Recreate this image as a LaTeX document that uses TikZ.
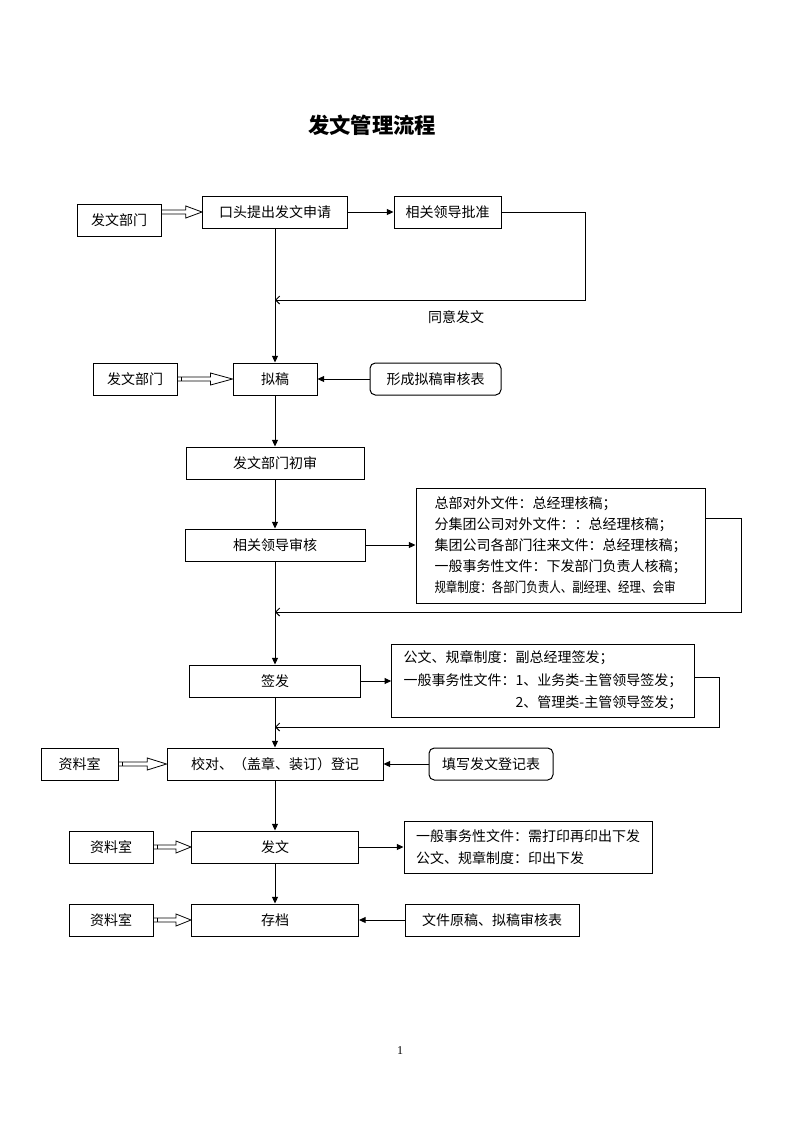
\documentclass[tikz,border=0pt]{standalone}
\usepackage{fontspec}
\setmainfont{Noto Sans CJK SC}
\newfontfamily\latinserif{Liberation Serif}
\usetikzlibrary{arrows.meta,calc}
\tikzset{
  box/.style={draw, inner sep=0pt, minimum height=24pt},
  roundbox/.style={box, rounded corners=4pt},
  notebox/.style={draw, inner xsep=9pt, inner ysep=0pt, align=left},
  flow/.style={-{Triangle[length=5pt,width=4.5pt]}},
  back/.style={-{Straight Barb[length=3pt,width=6pt]}},
}
% hollow double arrow, optional square at the tail
\newcommand{\hollowarrow}[3][0pt]{%
  \draw[line width=0.6pt] let \p1=(#2), \p2=(#3), \n1={0.4*(\x2-\x1)} in
    (\x1,\y2-1.5pt) rectangle (\x1+#1,\y2+1.5pt)
    (\x1+#1,\y2+1.5pt) -- (\x2-\n1,\y2+1.5pt) -- (\x2-\n1,\y2+4.5pt) -- (\x2,\y2)
    -- (\x2-\n1,\y2-4.5pt) -- (\x2-\n1,\y2-1.5pt) -- (\x1+#1,\y2-1.5pt);}

\begin{document}
\begin{tikzpicture}[x=0.75pt, y=-0.75pt, line width=0.75pt,
    font=\fontsize{10.5}{14}\selectfont]
  \useasboundingbox (0,0) rectangle (793,1122);
  \node (title) at (372,125) {\fontsize{16}{16}\selectfont\bfseries 发文管理流程};

  % application
  \node[box, minimum width=63pt] (dept1) at (119,220) {发文部门};
  \node[box, minimum width=108.75pt] (apply) at (275,212) {口头提出发文申请};
  \node[box, minimum width=80.25pt] (approve) at (447.5,212) {相关领导批准};
  \node (agree) at (456,317) {同意发文};
  \coordinate (join1) at (275,300);
  \draw[flow] (apply) -- (approve);
  \draw[back] (approve.east) -- ++(84,0) |- (join1);
  \hollowarrow{dept1.east}{apply.west}

  % drafting
  \node[box, minimum width=63pt] (dept2) at (135,379) {发文部门};
  \node[box, minimum width=63pt] (draft) at (275,379) {拟稿};
  \node[roundbox, minimum width=98.25pt] (form) at (435.5,379) {形成拟稿审核表};
  \draw[flow] (apply.south) -- (draft.north);
  \draw[flow] (form.west) -- (draft.east);
  \hollowarrow[3pt]{dept2.east}{draft.west}

  % review
  \node[box, minimum width=133.5pt] (check) at (275,463) {发文部门初审};
  \node[box, minimum width=135pt] (review) at (275,545) {相关领导审核};
  \node[notebox, minimum width=216.75pt, minimum height=86.25pt,
    font=\fontsize{10.5}{15.75}\selectfont] (note1) at (560.5,545.5)
    {总部对外文件：总经理核稿；\\
     分集团公司对外文件：：总经理核稿；\\
     集团公司各部门往来文件：总经理核稿；\\
     一般事务性文件：下发部门负责人核稿；\\
     \scalebox{0.82}[1]{规章制度：各部门负责人、副经理、经理、会审}};
  \coordinate (join2) at (275,612);
  \draw[flow] (draft.south) -- (check.north);
  \draw[flow] (check.south) -- (review.north);
  \draw[flow] (review.east) -- (review.east -| note1.west);
  \draw[back] ([yshift=20.6pt]note1.east) -- ++(36,0) |- (join2);

  % signing
  \node[box, minimum width=128.25pt] (sign) at (275,681) {签发};
  \node[notebox, minimum width=225pt, minimum height=54.75pt,
    font=\fontsize{10.5}{16.9}\selectfont] (note2) at (543,680.5)
    {公文、规章制度：副总经理签发；\\
     一般事务性文件：1、业务类-主管领导签发；\\
     \phantom{一般事务性文件：}2、管理类-主管领导签发；};
  \coordinate (join3) at (275,727);
  \draw[flow] (review.south) -- (sign.north);
  \draw[flow] (sign.east) -- (sign.east -| note2.west);
  \draw[back] ([yshift=2.6pt]note2.east) -- ++(25,0) |- (join3);

  % registration
  \node[box, minimum width=57.75pt] (archive1) at (79.5,764) {资料室};
  \node[box, minimum width=162pt] (proof) at (275,764) {校对、（盖章、装订）登记};
  \node[roundbox, minimum width=93pt] (fill) at (491,764) {填写发文登记表};
  \draw[flow] (sign.south) -- (proof.north);
  \draw[flow] (fill.west) -- (proof.east);
  \hollowarrow[3pt]{archive1.east}{proof.west}

  % issuing
  \node[box, minimum width=63pt] (archive2) at (111,847) {资料室};
  \node[box, minimum width=125.25pt] (issue) at (275,847) {发文};
  \node[notebox, minimum width=184.5pt, minimum height=39pt,
    font=\fontsize{10.5}{16.5}\selectfont] (note3) at (528,847)
    {一般事务性文件：需打印再印出下发\\
     公文、规章制度：印出下发};
  \draw[flow] (proof.south) -- (issue.north);
  \draw[flow] (issue.east) -- (note3.west);
  \hollowarrow[3pt]{archive2.east}{issue.west}

  % filing
  \node[box, minimum width=63pt] (archive3) at (111,920) {资料室};
  \node[box, minimum width=125.25pt] (store) at (275,920) {存档};
  \node[box, minimum width=130.5pt] (orig) at (492,920) {文件原稿、拟稿审核表};
  \draw[flow] (issue.south) -- (store.north);
  \draw[flow] (orig.west) -- (store.east);
  \hollowarrow[3pt]{archive3.east}{store.west}

  \node (pageno) at (400,1051) {\latinserif\fontsize{9}{9}\selectfont 1};
\end{tikzpicture}
\end{document}
